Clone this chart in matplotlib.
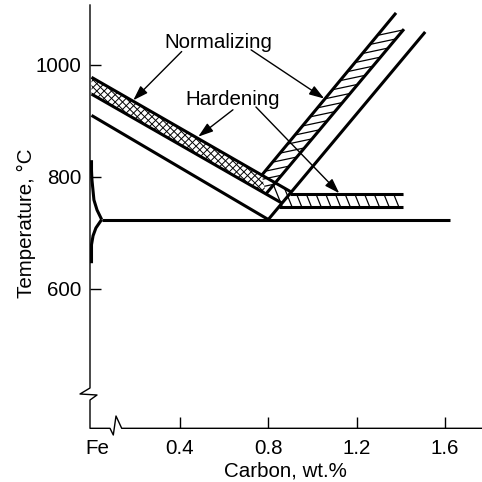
import numpy as np
import matplotlib
matplotlib.use('Agg')
import matplotlib.pyplot as plt
from matplotlib.patches import Polygon

plt.rcParams['font.family'] = ['Liberation Sans', 'DejaVu Sans']

# phase boundaries and range lines (carbon wt.%, temperature C)
a3_c = [0.0, 0.8]
a3_t = [910, 724]
mid_c = [0.0, 0.863]
mid_t = [948, 753]
top_c = [0.0, 0.9]
top_t = [978, 774]
acm_c = [0.8, 1.51]
acm_t = [724, 1059]
band_l_c = [0.77, 1.378]
band_l_t = [803, 1093]
band_r_c = [0.79, 1.414]
band_r_t = [770, 1064]
hard_top_c = [0.9, 1.41]
hard_top_t = [770, 770]
hard_bot_c = [0.85, 1.41]
hard_bot_t = [747, 747]
eut_c = [0.046, 1.62]
eut_t = [724, 724]
a3lo_c = [0.0, 0.0, 0.002, 0.011, 0.025, 0.046]
a3lo_t = [830, 812, 795, 759, 741, 724]
alpha_c = [0.046, 0.02, 0.007, 0.0, 0.0, 0.0]
alpha_t = [724, 709, 695, 679, 661, 646]

# hatched regions
cross_c = [0.0, 0.77, 0.79, 0.0]
cross_t = [978, 803, 770, 948]
diag_c = [0.77, 1.317, 1.414, 0.79]
diag_t = [803, 1064, 1064, 770]
horiz_c = [0.79, 0.832, 0.9, 0.9, 1.41, 1.41, 0.85, 0.863]
horiz_t = [770, 790, 774, 770, 770, 747, 747, 753]

# annotations
norm_text = (0.576, 1030)
hard_text = (0.637, 929)
norm_from = [(0.408, 1024), (0.722, 1027)]
norm_to = [(0.189, 937), (1.053, 940)]
hard_from = [(0.640, 920), (0.744, 925)]
hard_to = [(0.483, 872), (1.121, 771)]

xticks = [0.4, 0.8, 1.2, 1.6]
yticks = [600, 800, 1000]

W = 482.0
fig = plt.figure(figsize=(4.82, 4.82), dpi=100)
ax = fig.add_axes([90 / W, 1 - 428.3 / W, (W - 90) / W, (428.3 - 5) / W])
ax.set_xlim(-0.0068, 1.767)
ax.set_ylim(351.2, 1107.1)
for s in ax.spines.values():
    s.set_visible(False)

ax.set_xticks(xticks)
ax.set_xticklabels(['0.4', '0.8', '1.2', '1.6'])
ax.set_yticks(yticks)
ax.tick_params(direction='in', length=8, width=1, labelsize=14.8)
ax.tick_params(axis='x', pad=7.9)
ax.tick_params(axis='y', pad=6)
ax.annotate('Fe', xy=(0.028, 0), xycoords=('data', 'axes fraction'),
            xytext=(0, -7.9), textcoords='offset points', ha='center', va='top',
            fontsize=14.8)

# axis lines with breaks (figure pixels)
px = np.array([(90, 5), (90, 388), (80, 394), (97, 395), (90, 400), (90, 428.3),
               (110, 428.3), (113.3, 435), (116, 416), (121.7, 428.3), (482, 428.3)])
fig.add_artist(plt.Line2D(px[:, 0] / W, 1 - px[:, 1] / W, color='k', lw=1.0,
                          transform=fig.transFigure))


def hatch_region(c, t, angle, spacing, lw=0.8):
    verts = np.column_stack([c, t])
    patch = Polygon(verts, closed=True, fill=False, lw=0, transform=ax.transData)
    ax.add_patch(patch)
    disp = ax.transData.transform(verts)
    ctr = disp.mean(axis=0)
    r = np.abs(disp - ctr).max() * 2
    a = np.deg2rad(angle)
    d = np.array([np.cos(a), np.sin(a)])
    n = np.array([-np.sin(a), np.cos(a)])
    inv = ax.transData.inverted()
    for k in np.arange(-r, r, spacing):
        p = inv.transform(np.array([ctr + n * k - d * r, ctr + n * k + d * r]))
        ln, = ax.plot(p[:, 0], p[:, 1], color='k', lw=lw, solid_capstyle='butt')
        ln.set_clip_path(patch)


hatch_region(cross_c, cross_t, 45, 5.2, 0.7)
hatch_region(cross_c, cross_t, -45, 5.2, 0.7)
hatch_region(diag_c, diag_t, 12, 7.3, 0.9)
hatch_region(horiz_c, horiz_t, -68, 9.0, 0.9)

lw = 2.2
for c, t in [(a3_c, a3_t), (mid_c, mid_t), (top_c, top_t), (acm_c, acm_t),
             (band_l_c, band_l_t), (band_r_c, band_r_t), (hard_top_c, hard_top_t),
             (hard_bot_c, hard_bot_t), (eut_c, eut_t), (a3lo_c, a3lo_t),
             (alpha_c, alpha_t)]:
    ax.plot(c, t, color='k', lw=lw, solid_capstyle='butt', solid_joinstyle='round')

ax.text(*norm_text, 'Normalizing', ha='center', va='baseline', fontsize=14.8)
ax.text(*hard_text, 'Hardening', ha='center', va='baseline', fontsize=14.8)
aprops = dict(arrowstyle='-|>,head_length=0.9,head_width=0.3', color='k', lw=1,
              shrinkA=0, shrinkB=0, mutation_scale=10)
for s, e in zip(norm_from + hard_from, norm_to + hard_to):
    ax.annotate('', xy=e, xytext=s, arrowprops=aprops)

fig.text(285 / W, 1 - 476.5 / W, 'Carbon, wt.%', ha='center', va='baseline',
         fontsize=14.8)
fig.text(26 / W, 1 - 223 / W, 'Temperature, °C', ha='center', va='center',
         rotation=90, fontsize=14.8)

fig.savefig('out.png', dpi=100)
